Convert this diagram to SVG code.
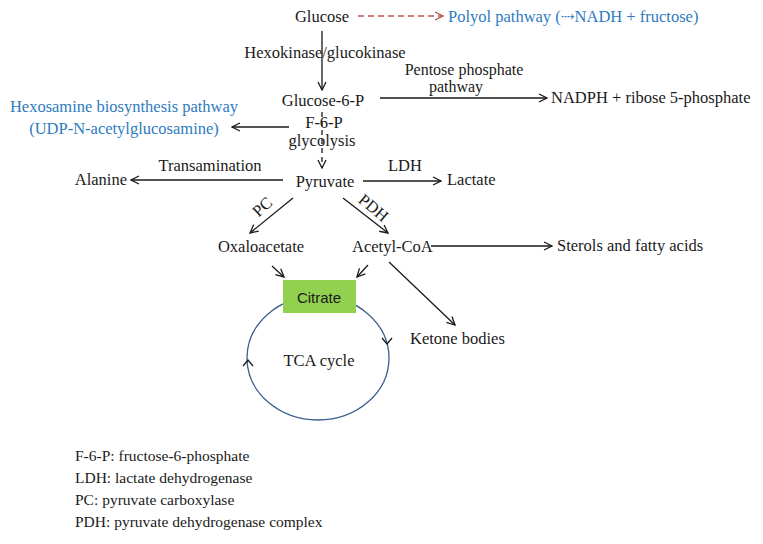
<svg xmlns="http://www.w3.org/2000/svg" width="763" height="544" viewBox="0 0 763 544">
<style>
text{font-family:"Liberation Serif","DejaVu Serif",serif;font-size:16.5px;fill:#1a1a1a}
.blue{fill:#2e7bbf}
.leg{font-size:15.5px}
.c{text-anchor:middle}
.ln{stroke:#1a1a1a;stroke-width:1.3;fill:none}
.ah{stroke:#1a1a1a;stroke-width:1.3;fill:none}
</style>
<defs>
<marker id="a" viewBox="0 0 10 10" refX="9" refY="5" markerWidth="10" markerHeight="10" markerUnits="userSpaceOnUse" orient="auto">
<path d="M1,1 L9,5 L1,9" fill="none" stroke="#1a1a1a" stroke-width="1.3"/>
</marker>
<marker id="ar" viewBox="0 0 10 10" refX="9" refY="5" markerWidth="10" markerHeight="10" markerUnits="userSpaceOnUse" orient="auto">
<path d="M1,1 L9,5 L1,9" fill="none" stroke="#c0504d" stroke-width="1.3"/>
</marker>
</defs>
<rect width="763" height="544" fill="#fff"/>
<g id="connectors">
<line x1="358" y1="16" x2="443" y2="16" stroke="#c0504d" stroke-width="1.3" stroke-dasharray="6,4" marker-end="url(#ar)"/>
<line class="ln" x1="322" y1="31" x2="322" y2="90" marker-end="url(#a)"/>
<line class="ln" x1="380" y1="98" x2="547" y2="98" marker-end="url(#a)"/>
<line class="ln" x1="289" y1="127" x2="232" y2="127" marker-end="url(#a)"/>
<line class="ln" x1="322" y1="112" x2="322" y2="168" stroke-dasharray="5,4" marker-end="url(#a)"/>
<line class="ln" x1="283" y1="180" x2="131" y2="180" marker-end="url(#a)"/>
<line class="ln" x1="363" y1="181" x2="441" y2="181" marker-end="url(#a)"/>
<line class="ln" x1="293" y1="198" x2="250" y2="233" marker-end="url(#a)"/>
<line class="ln" x1="343" y1="198" x2="388" y2="233" marker-end="url(#a)"/>
<line class="ln" x1="431" y1="246" x2="552" y2="246" marker-end="url(#a)"/>
<line class="ln" x1="272" y1="266" x2="284" y2="277" marker-end="url(#a)"/>
<line class="ln" x1="368" y1="265" x2="357" y2="277" marker-end="url(#a)"/>
<line class="ln" x1="389" y1="262" x2="455" y2="325" marker-end="url(#a)"/>
<ellipse cx="318" cy="358" rx="71" ry="62" fill="none" stroke="#3d5f8f" stroke-width="1.3"/>
<path d="M382,338 L387,344 L392,338" class="ah"/>
<path d="M243,366 L248,360 L253,366" class="ah"/>
</g>
<g id="glucose"><text class="c" x="322" y="22">Glucose</text></g>
<g id="polyol"><text class="blue" x="448" y="22">Polyol pathway (⇢NADH + fructose)</text></g>
<g id="hexokinase"><text class="c" x="325" y="58">Hexokinase/glucokinase</text></g>
<g id="pentose"><text class="c" x="464" y="75" style="font-size:16px">Pentose phosphate</text><text class="c" x="456" y="92" style="font-size:16px">pathway</text></g>
<g id="nadph"><text x="551" y="103">NADPH + ribose 5-phosphate</text></g>
<g id="g6p"><text class="c" x="323" y="106">Glucose-6-P</text></g>
<g id="f6p"><text class="c" x="324" y="128">F-6-P</text><text class="c" x="322" y="146">glycolysis</text></g>
<g id="hexosamine"><text class="blue c" x="124" y="112">Hexosamine biosynthesis pathway</text><text class="blue c" x="124" y="134">(UDP-N-acetylglucosamine)</text></g>
<g id="transamination"><text class="c" x="210" y="171">Transamination</text></g>
<g id="alanine"><text x="127" y="185" style="text-anchor:end">Alanine</text></g>
<g id="pyruvate"><text class="c" x="325" y="187">Pyruvate</text></g>
<g id="ldh"><text class="c" x="405" y="171">LDH</text></g>
<g id="lactate"><text x="447" y="185">Lactate</text></g>
<g id="pc"><text class="c" transform="translate(266,211) rotate(-42)">PC</text></g>
<g id="pdh"><text class="c" transform="translate(370,212) rotate(40)">PDH</text></g>
<g id="oxaloacetate"><text class="c" x="261" y="252">Oxaloacetate</text></g>
<g id="acetylcoa"><text x="352" y="252">Acetyl-CoA</text></g>
<g id="sterols"><text x="557" y="251">Sterols and fatty acids</text></g>
<g id="citrate"><rect x="283" y="280" width="73" height="33" fill="#92d050"/><text class="c" x="319" y="303" style="font-family:'Liberation Sans','DejaVu Sans',sans-serif;font-size:15px">Citrate</text></g>
<g id="ketone"><text x="410" y="344">Ketone bodies</text></g>
<g id="tca"><text class="c" x="319" y="366">TCA cycle</text></g>
<g id="legend">
<text class="leg" x="75" y="461">F-6-P: fructose-6-phosphate</text>
<text class="leg" x="75" y="483">LDH: lactate dehydrogenase</text>
<text class="leg" x="75" y="505">PC: pyruvate carboxylase</text>
<text class="leg" x="75" y="527">PDH: pyruvate dehydrogenase complex</text>
</g>
</svg>
